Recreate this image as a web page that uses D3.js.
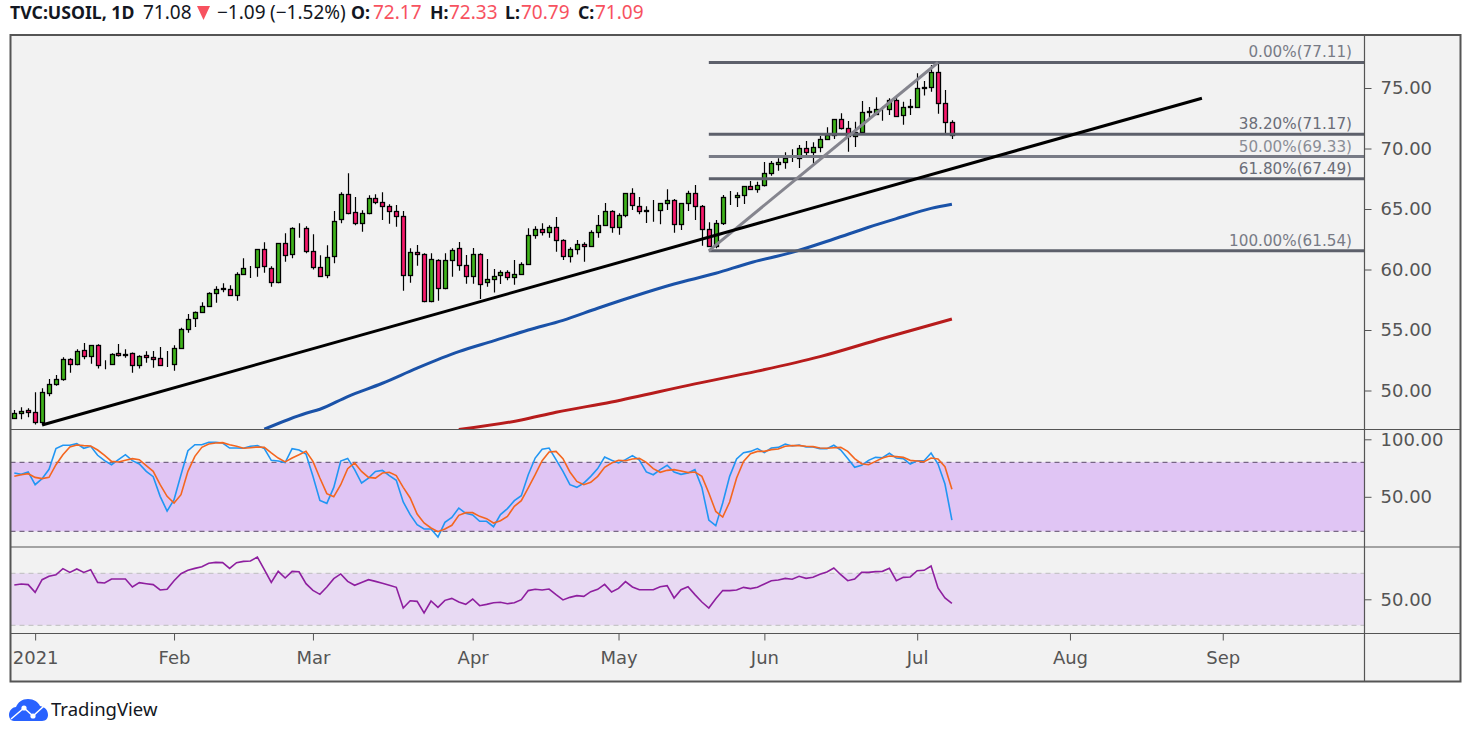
<!DOCTYPE html>
<html>
<head>
<meta charset="utf-8">
<title>TVC:USOIL</title>
<script src="https://cdn.jsdelivr.net/npm/d3@7/dist/d3.min.js"></script>
<style>
  html, body { margin: 0; padding: 0; background: #fff; overflow: hidden; }
  svg { display: block; }
  .axis text { font-family: "DejaVu Sans", sans-serif; font-size: 18px; fill: #555; }
  .axis line { stroke: #555; }
  .axis path { display: none; }
  .head { font-family: "Noto Sans", sans-serif; font-size: 19px; }
</style>
</head>
<body>
<div id="chart"></div>
<script>
const opens = [
  47.70,48.11,48.36,48.20,47.37,49.77,50.51,50.92,52.58,52.16,
  53.32,52.82,53.73,52.08,52.16,53.07,52.91,53.07,52.08,52.91,
  52.74,52.66,52.16,52.16,53.49,55.05,55.96,56.46,56.96,58.03,
  58.36,58.36,57.87,59.60,60.10,60.18,61.67,60.10,58.94,62.16,
  61.25,63.40,63.40,61.50,60.18,59.52,61.09,64.15,66.21,64.72,
  63.82,64.64,65.88,65.55,65.22,64.81,64.39,59.52,61.42,61.25,
  57.37,60.76,58.44,60.76,61.75,60.34,59.44,61.25,58.94,59.19,
  59.52,59.77,59.35,59.60,60.43,62.82,63.32,63.07,63.49,62.41,
  61.09,61.67,62.08,61.91,63.07,63.65,64.81,63.49,64.48,66.30,
  65.22,64.89,64.81,64.89,65.47,65.72,63.73,65.47,66.29,65.22,
  63.32,61.91,63.81,65.96,65.96,66.13,66.87,66.63,66.95,67.95,
  68.69,68.86,69.19,69.19,70.01,69.68,70.10,70.76,71.09,72.41,
  71.67,71.00,71.39,72.99,72.82,73.24,73.24,73.98,72.74,73.40,
  73.46,74.97,75.06,76.29,73.73,72.17];
const highs = [
  48.39,48.61,48.53,49.85,50.18,50.95,51.28,52.74,52.66,53.40,
  53.93,53.73,53.82,52.49,53.07,53.84,53.40,53.15,52.91,53.24,
  53.26,53.60,53.26,53.73,55.19,56.32,56.52,57.29,58.11,58.61,
  58.86,58.69,59.77,60.92,60.29,61.67,62.25,60.26,62.16,62.99,
  63.49,63.82,63.57,62.91,61.17,62.00,64.83,66.38,67.95,65.99,
  64.89,66.13,66.21,66.38,65.39,65.33,64.83,61.75,62.02,61.34,
  61.34,60.84,61.34,61.75,62.27,61.20,61.78,61.34,60.87,60.04,
  59.93,59.93,60.79,60.59,63.40,63.57,63.82,63.65,64.34,62.49,
  61.83,62.44,62.25,63.24,64.50,65.50,64.89,64.64,66.30,66.71,
  65.99,65.22,65.74,65.47,66.63,65.83,65.47,66.51,66.98,65.33,
  63.90,64.09,66.16,66.49,66.38,66.87,67.31,67.26,68.88,68.97,
  69.19,69.68,69.93,70.29,70.62,70.51,71.03,71.75,72.41,72.91,
  72.27,72.22,73.93,73.43,74.23,73.46,74.15,74.28,73.87,74.09,
  76.21,75.58,76.90,77.12,74.83,72.33];
const lows = [
  47.65,47.62,47.78,47.20,47.15,49.52,50.40,50.81,51.47,52.08,
  52.58,52.22,51.81,51.75,52.16,52.82,52.71,51.47,51.81,52.30,
  51.89,52.05,51.94,51.64,53.49,54.78,55.25,56.43,56.96,57.26,
  58.11,57.87,57.42,59.60,59.30,59.41,59.74,58.58,58.86,60.65,
  60.92,62.63,61.34,60.01,59.44,59.27,60.51,63.82,64.56,63.65,
  63.13,64.56,65.39,64.09,63.79,63.54,58.25,58.91,60.32,57.29,
  57.29,57.42,58.36,59.41,59.90,58.83,58.83,57.56,58.58,58.09,
  58.80,59.11,58.75,59.57,60.43,62.55,62.80,62.63,61.47,60.79,
  60.57,61.23,60.65,61.89,62.63,63.65,63.04,62.88,64.31,64.92,
  64.56,63.84,63.95,63.73,64.92,63.04,63.26,64.83,64.09,61.97,
  61.89,61.75,63.68,65.33,65.16,65.41,66.57,66.35,66.85,67.75,
  68.17,68.33,68.88,68.39,69.38,68.77,69.68,70.70,70.79,71.56,
  69.74,70.12,71.34,72.49,72.77,72.30,72.77,72.60,71.97,72.77,
  73.38,74.37,74.70,72.88,71.25,70.79];
const closes = [
  48.11,48.28,48.20,47.37,49.85,50.51,50.92,52.58,52.16,53.24,
  52.82,53.73,52.08,52.10,52.99,52.91,52.99,52.08,52.82,52.74,
  52.58,52.08,52.18,53.49,55.05,55.88,56.46,56.96,58.03,58.36,
  58.44,57.87,59.60,60.10,60.15,61.67,60.26,58.94,62.16,61.17,
  63.40,63.42,61.50,60.18,59.44,61.01,63.98,66.21,64.64,63.82,
  64.64,65.88,65.55,65.22,64.81,64.39,59.52,61.42,61.25,57.37,
  60.84,58.44,60.76,61.58,60.34,59.44,61.25,58.77,59.19,59.44,
  59.77,59.35,59.60,60.43,62.82,63.32,63.07,63.49,62.41,61.09,
  61.67,62.08,61.91,63.07,63.65,64.81,63.49,64.48,66.30,65.30,
  64.81,64.81,64.83,65.47,65.72,63.73,65.47,66.29,65.22,63.32,
  61.91,63.81,65.96,65.98,66.13,66.87,66.63,66.95,67.95,68.77,
  68.86,69.19,69.21,70.01,69.68,70.10,70.76,71.09,72.41,71.67,
  71.03,71.34,72.99,73.10,73.24,73.26,74.01,72.69,73.40,73.48,
  74.97,75.06,76.29,73.73,72.16,71.09];

// [bar, price]
const maBlue = [[36,46.8],[42,48.12],[44,48.45],[48,49.5],[53,50.6],[58,51.85],[64,53.21],[69,54.1],
  [74,55.0],[79,55.8],[84,56.8],[89,57.75],[95,58.8],[101,59.69],[106,60.56],[112,61.42],[118,62.52],
  [123,63.49],[127,64.2],[132,65.05],[135,65.39]];
const maRed = [[64,46.78],[73,47.56],[78,48.2],[86,49.05],[98,50.55],[107,51.6],[116,52.8],[125,54.3],[135,55.91]];

const trendLine = [[4,47.15],[171,74.15]];
const fibDiagonal = [[100,61.54],[133,77.11]];
const fibLevels = [0,38.2,50,61.8,100];
const fibPrices = [77.11,71.17,69.33,67.49,61.54];
const fibColors = ['#5d606b','#5d606b','#787b86','#5d606b','#5d606b'];
const fibText = ['#787b86','#6a6d78','#8a8d96','#6a6d78','#787b86'];

const stochK = [70.7,69.5,71.6,60.5,65.8,73.9,91.9,94.8,94.8,96.2,92.2,93.9,86.1,81.4,77.9,82.3,86.6,81.4,78.5,72.1,
  67.5,50.4,37.6,47.5,69.2,90.1,95.3,95.3,97.4,97.4,96.8,92.4,92.4,92.2,93.9,94.5,91.9,81.7,81.1,79.7,
  91.9,90.7,87.2,67.8,46.9,44.3,58.2,81.1,83.4,73.6,62.0,66.3,72.1,73.0,68.4,64.3,45.5,34.5,25.8,22.0,
  22.0,15.0,27.8,32.1,40.2,35.6,34.2,28.7,28.7,24.0,34.5,39.7,46.6,51.0,69.2,83.7,91.3,92.4,82.3,72.1,
  60.5,58.2,62.0,67.8,74.5,84.6,81.7,79.4,82.3,85.8,82.0,71.6,69.2,73.6,77.4,71.6,69.5,70.7,73.6,58.2,
  29.8,24.9,44.6,67.8,82.9,88.4,89.5,91.9,88.4,92.4,93.0,95.9,94.2,95.0,93.3,93.3,91.9,91.9,94.8,90.7,
  83.2,75.6,77.4,81.7,84.3,84.0,87.8,83.7,83.2,78.5,81.4,81.4,88.1,78.5,61.1,29.8];
const stochD = [67.8,69.2,70.1,66.9,65.8,66.9,77.9,86.6,93.3,95.0,94.5,94.2,90.7,86.1,80.8,80.3,81.7,83.2,82.3,77.1,
  72.1,60.5,50.4,44.6,51.8,72.1,85.2,93.0,95.9,96.8,97.1,95.3,93.9,92.2,92.7,93.3,93.0,88.1,83.7,80.3,
  83.7,86.6,89.5,80.8,66.3,52.7,50.1,60.5,74.5,79.4,72.1,66.9,66.3,70.7,71.3,68.4,58.2,49.0,35.0,27.2,
  22.9,19.7,22.0,25.2,33.9,36.2,36.2,33.0,31.0,27.2,29.2,33.0,41.7,46.6,57.7,69.2,81.4,89.0,89.5,83.2,
  71.6,63.4,60.5,62.6,67.8,75.6,79.4,81.7,81.4,82.9,83.4,80.0,74.5,71.3,73.0,73.6,72.4,71.0,71.6,67.8,
  53.3,37.3,32.4,45.5,66.3,80.8,87.5,89.5,89.5,91.0,91.6,93.9,94.5,94.5,93.9,93.6,92.4,92.2,92.7,93.0,
  89.5,83.2,78.8,77.9,80.8,83.7,85.5,84.9,84.3,81.7,81.1,80.5,83.7,82.9,76.2,56.5];
const rsi = [61.0,61.8,61.3,55.4,65.1,67.7,68.9,73.6,70.7,73.3,70.7,72.8,63.0,62.5,65.6,65.6,65.6,59.5,62.8,62.0,
  61.3,57.2,57.7,64.3,69.7,72.3,73.8,75.1,77.7,78.4,78.2,73.8,78.2,79.2,79.5,82.5,72.8,63.0,71.5,66.4,
  71.5,71.2,62.0,56.9,53.8,59.5,65.9,69.5,63.8,60.8,63.0,65.1,63.8,62.3,60.8,59.2,43.3,48.9,48.4,39.5,
  48.7,43.8,49.2,50.7,47.9,46.1,50.2,45.1,46.1,47.4,47.7,46.6,47.4,49.7,56.7,57.7,57.2,57.9,53.6,49.5,
  51.5,52.8,52.3,55.9,57.7,61.5,55.6,58.4,63.6,59.5,57.4,57.4,57.4,59.7,60.5,51.0,57.4,59.7,53.6,47.9,
  43.3,50.5,56.7,56.7,57.2,59.2,58.2,59.2,61.8,64.3,64.8,66.1,65.4,67.7,66.1,66.9,69.2,71.0,74.1,68.9,
  64.3,65.6,70.7,70.7,71.3,71.5,73.8,64.3,66.9,67.2,72.0,72.3,75.6,58.7,51.0,46.9];

const monthBars = [3,23,43,66,87,108,130,152,174];
const monthLabels = ['2021','Feb','Mar','Apr','May','Jun','Jul','Aug','Sep'];
const priceTicks = [50,55,60,65,70,75];
const stochTicks = [50,100];
const rsiTicks = [50];

const W = 1471, H = 737;
const frame = {left: 10.5, top: 35, right: 1460.5, bottom: 681.5};
const axisX = 1364.5;
const sep1 = 429.5, sep2 = 547, sep3 = 633.5;

const svg = d3.select('#chart').append('svg').attr('width', W).attr('height', H);

svg.append('rect')
  .attr('x', frame.left).attr('y', frame.top)
  .attr('width', frame.right - frame.left).attr('height', frame.bottom - frame.top)
  .attr('fill', '#f2f2f2');

const x = d3.scaleLinear().domain([0, 135]).range([14.3, 951.9]);
const y = d3.scaleLinear().domain([75, 50]).range([88, 390.5]);
const yStoch = d3.scaleLinear().domain([100, 50]).range([439.3, 496.8]);
const yRsi = d3.scaleLinear().domain([70, 30]).range([573.3, 625.3]);

const defs = svg.append('defs');
defs.append('clipPath').attr('id', 'clipMain').append('rect')
  .attr('x', frame.left).attr('y', frame.top).attr('width', axisX - frame.left).attr('height', sep1 - frame.top);

// bands
svg.append('rect').attr('x', frame.left).attr('width', axisX - frame.left)
  .attr('y', yStoch(80)).attr('height', yStoch(20) - yStoch(80)).attr('fill', '#e0c5f4');
svg.append('rect').attr('x', frame.left).attr('width', axisX - frame.left)
  .attr('y', yRsi(70)).attr('height', yRsi(30) - yRsi(70)).attr('fill', '#e8daf3');
[80, 20].forEach(v => {
  svg.append('line').attr('x1', frame.left).attr('x2', axisX)
    .attr('y1', yStoch(v)).attr('y2', yStoch(v))
    .attr('stroke', '#5a4a68').attr('stroke-dasharray', '5 4');
});
[70, 30].forEach(v => {
  svg.append('line').attr('x1', frame.left).attr('x2', axisX)
    .attr('y1', yRsi(v)).attr('y2', yRsi(v))
    .attr('stroke', '#bdbdbd').attr('stroke-dasharray', '5 4');
});

const main = svg.append('g').attr('clip-path', 'url(#clipMain)');
const lineXY = d3.line().x(d => x(d[0])).y(d => y(d[1]));
const lineMA = d3.line().curve(d3.curveMonotoneX).x(d => x(d[0])).y(d => y(d[1]));

main.append('path').attr('d', lineMA(maBlue)).attr('fill', 'none').attr('stroke', '#1a52a8').attr('stroke-width', 3);
main.append('path').attr('d', lineMA(maRed)).attr('fill', 'none').attr('stroke', '#b71c1c').attr('stroke-width', 3);

// candles
const bars = d3.range(opens.length);
const candle = main.selectAll('g.candle').data(bars).enter().append('g').attr('class', 'candle');
candle.append('line')
  .attr('x1', i => Math.round(x(i)) + 0.5).attr('x2', i => Math.round(x(i)) + 0.5)
  .attr('y1', i => y(highs[i])).attr('y2', i => y(lows[i]))
  .attr('stroke', '#000').attr('stroke-width', 1.2);
candle.append('rect')
  .attr('x', i => Math.round(x(i)) - 1.5)
  .attr('width', 4)
  .attr('y', i => Math.round(y(Math.max(opens[i], closes[i]))) + 0.5)
  .attr('height', i => Math.max(0, Math.round(y(Math.min(opens[i], closes[i]))) - Math.round(y(Math.max(opens[i], closes[i])))))
  .attr('fill', i => closes[i] >= opens[i] ? '#3fb31b' : '#f7196b')
  .attr('stroke', '#000').attr('stroke-width', 1.3);

// fib levels and drawings
fibPrices.forEach((p, k) => {
  main.append('line').attr('x1', x(100)).attr('x2', axisX)
    .attr('y1', y(p)).attr('y2', y(p))
    .attr('stroke', fibColors[k]).attr('stroke-width', 3);
  svg.append('text').attr('x', 1352).attr('y', y(p) - 5)
    .attr('text-anchor', 'end')
    .attr('font-family', '"DejaVu Sans", sans-serif').attr('font-size', 15.2)
    .attr('fill', fibText[k])
    .text(`${fibLevels[k].toFixed(2)}%(${p.toFixed(2)})`);
});
main.append('path').attr('d', lineXY(fibDiagonal)).attr('fill', 'none').attr('stroke', '#85858e').attr('stroke-width', 3);
main.append('path').attr('d', lineXY(trendLine)).attr('fill', 'none').attr('stroke', '#000').attr('stroke-width', 3);

// oscillators
const lineOsc = yy => d3.line().x((d, i) => x(i)).y(d => yy(d));
svg.append('path').attr('d', lineOsc(yStoch)(stochK)).attr('fill', 'none').attr('stroke', '#2196f3').attr('stroke-width', 1.6);
svg.append('path').attr('d', lineOsc(yStoch)(stochD)).attr('fill', 'none').attr('stroke', '#f4661f').attr('stroke-width', 1.6);
svg.append('path').attr('d', lineOsc(yRsi)(rsi)).attr('fill', 'none').attr('stroke', '#8e1f9f').attr('stroke-width', 1.6);

// axes
const rightAxis = (scale, vals) => d3.axisRight(scale).tickValues(vals).tickSize(7).tickPadding(9).tickFormat(d3.format('.2f'));
svg.append('g').attr('class', 'axis').attr('transform', `translate(${axisX},0)`).call(rightAxis(y, priceTicks));
svg.append('g').attr('class', 'axis').attr('transform', `translate(${axisX},0)`).call(rightAxis(yStoch, stochTicks));
svg.append('g').attr('class', 'axis').attr('transform', `translate(${axisX},0)`).call(rightAxis(yRsi, rsiTicks));
svg.append('g').attr('class', 'axis').attr('transform', `translate(0,${sep3})`)
  .call(d3.axisBottom(x).tickValues(monthBars).tickSize(7).tickPadding(11)
    .tickFormat(d => monthLabels[monthBars.indexOf(d)]));

// separators and frame
[sep1, sep2, sep3].forEach(v => {
  svg.append('line').attr('x1', frame.left).attr('x2', frame.right).attr('y1', v).attr('y2', v)
    .attr('stroke', '#555').attr('stroke-width', 1.2);
});
svg.append('line').attr('x1', axisX).attr('x2', axisX).attr('y1', frame.top).attr('y2', frame.bottom)
  .attr('stroke', '#555').attr('stroke-width', 1.2);
svg.append('rect')
  .attr('x', frame.left).attr('y', frame.top)
  .attr('width', frame.right - frame.left).attr('height', frame.bottom - frame.top)
  .attr('fill', 'none').attr('stroke', '#555').attr('stroke-width', 2);

// header
const headerDark = '#131722', headerRed = '#f7525f';
const headerItems = [
  ['TVC:USOIL, 1D', 10, headerDark, 700, 17.7],
  ['71.08', 143, headerDark, 400, 19],
  ['\u22121.09', 217, headerDark, 400, 19],
  ['(\u22121.52%)', 270, headerDark, 400, 19],
  ['O:', 351, headerDark, 700, 17.7],
  ['72.17', 373, headerRed, 400, 19],
  ['H:', 430, headerDark, 700, 17.7],
  ['72.33', 449, headerRed, 400, 19],
  ['L:', 505, headerDark, 700, 17.7],
  ['70.79', 521, headerRed, 400, 19],
  ['C:', 578, headerDark, 700, 17.7],
  ['71.09', 595, headerRed, 400, 19]
];
headerItems.forEach(h => {
  svg.append('text').attr('class', 'head').attr('x', h[1]).attr('y', 19)
    .attr('fill', h[2]).attr('font-weight', h[3]).style('font-size', h[4] + 'px').text(h[0]);
});
svg.append('path').attr('d', 'M197,6 L210,6 L203.5,20 Z').attr('fill', headerRed);

// logo
const logo = svg.append('g');
logo.append('path')
  .attr('d', 'M9,715 C9,710 13,707 16,707 C18,702 22,699 28,699 C34,699 38,702 40,706 C45,707 48,710 48,715 C48,718 46,721 42,721 L14,721 C11,721 9,718 9,715 Z')
  .attr('fill', '#2962ff');
logo.append('path').attr('d', 'M11,719 L24,708 L33,716 L44,706')
  .attr('fill', 'none').attr('stroke', '#fff').attr('stroke-width', 1.5);
logo.append('circle').attr('cx', 24).attr('cy', 708).attr('r', 2.6).attr('fill', '#fff');
logo.append('circle').attr('cx', 33).attr('cy', 716).attr('r', 2.6).attr('fill', '#fff');
svg.append('text').attr('x', 51).attr('y', 716).attr('fill', '#131722')
  .attr('font-family', '"Noto Sans", sans-serif').attr('font-size', 18.5).text('TradingView');
</script>
</body>
</html>
